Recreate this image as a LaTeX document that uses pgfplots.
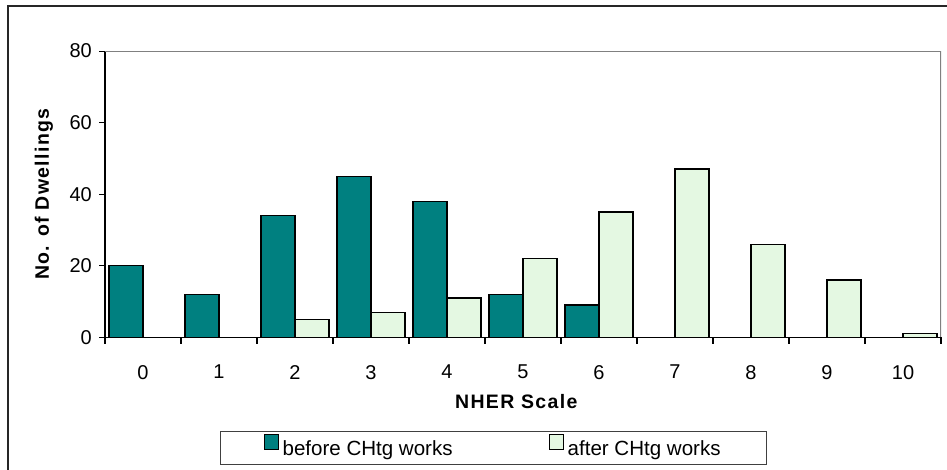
\documentclass[border=0pt]{standalone}
\usepackage{pgfplots}
\pgfplotsset{compat=1.18}
\usepackage{fontspec}
\setmainfont{Liberation Sans}
\newfontfamily\labelfont[LetterSpace=7]{Liberation Sans}
\definecolor{before}{RGB}{0,128,128}
\definecolor{after}{RGB}{228,248,226}
\begin{document}
\fontsize{14pt}{16pt}\selectfont
\begin{tikzpicture}
\useasboundingbox (0,0) rectangle (710.25pt,352.5pt);
\draw[line width=1.4pt,black!85] (6.2pt,0) -- (6.2pt,348pt) -- (710.25pt,348pt);
\begin{axis}[
  at={(78.75pt,99.5pt)}, anchor=south west,
  scale only axis, width=627pt, height=214.7pt,
  xmin=-0.5, xmax=10.5, ymin=0, ymax=80,
  ytick={0,20,40,60,80},
  xtick={0,...,10},
  minor xtick={-0.5,0.5,...,10.5},
  major x tick style={draw=none},
  minor tick length=5pt,
  xtick align=outside, ytick align=outside,
  major tick length=4.5pt,
  tick style={black, line width=0.8pt},
  axis line style={black, line width=1pt},
  /pgf/number format/assume math mode=true,
  ticklabel style={font=\fontsize{15pt}{17pt}\selectfont},
  xticklabel style={yshift=-11.5pt},
  yticklabel style={xshift=-0.5pt},
  axis x line*=bottom, axis y line*=left,
  ybar, bar width=0.447,
  xlabel={\labelfont\bfseries NHER Scale},
  ylabel={\labelfont\bfseries No. of Dwellings},
  every axis x label/.style={at={([yshift=-48.5pt]axis description cs:0.492,0)}, anchor=center, font=\fontsize{14.6pt}{16pt}\selectfont},
  every axis y label/.style={at={([xshift=-45.75pt]axis description cs:0,0.5)}, anchor=center, rotate=90, font=\fontsize{14.6pt}{16pt}\selectfont},
  legend columns=2,
  legend style={at={(axis description cs:0.465,-0.387)}, anchor=center,
    draw=black!75, line width=0.8pt, inner xsep=32.25pt, inner ysep=2pt,
    font=\fontsize{15.4pt}{17pt}\selectfont,
    nodes={inner xsep=2.5pt, inner ysep=3pt},
    /tikz/every even column/.append style={column sep=69.5pt}},
  legend image code/.code={\path[draw=none,fill=none] (0pt,-5.5pt) -- (11pt,-5.5pt);\draw[#1, draw=black, line width=0.8pt] (0pt,0pt) rectangle (11pt,11pt);},
]
\addplot[fill=before, draw=black, line width=1pt, bar shift=-0.2235] coordinates {
(0,20) (1,12) (2,34) (3,45) (4,38) (5,12) (6,9) (7,0) (8,0) (9,0) (10,0)};
\addplot[fill=after, draw=black, line width=1pt, bar shift=0.2235] coordinates {
(0,0) (1,0) (2,5) (3,7) (4,11) (5,22) (6,35) (7,47) (8,26) (9,16) (10,1)};
\legend{before CHtg works, after CHtg works}
\draw[black!50, line width=1.1pt] (rel axis cs:0,1) -- (rel axis cs:1,1) -- (rel axis cs:1,0);
\end{axis}
\end{tikzpicture}
\end{document}
